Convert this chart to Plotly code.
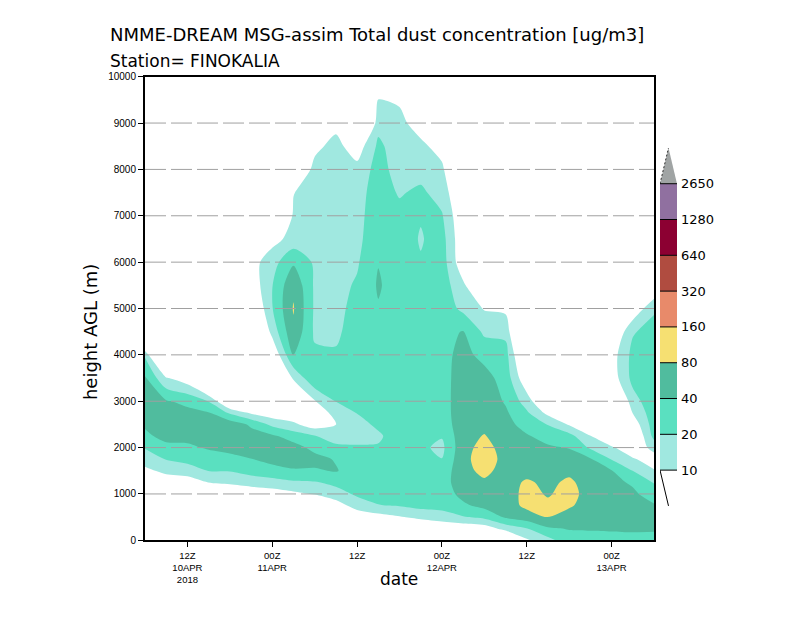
import numpy as np
import plotly.graph_objects as go

# ---------------- data ----------------
times = ["2018-04-10 06:00", "2018-04-10 09:00", "2018-04-10 12:00", "2018-04-10 15:00",
         "2018-04-10 18:00", "2018-04-10 21:00", "2018-04-11 00:00", "2018-04-11 03:00",
         "2018-04-11 06:00", "2018-04-11 09:00", "2018-04-11 12:00", "2018-04-11 15:00",
         "2018-04-11 18:00", "2018-04-11 21:00", "2018-04-12 00:00", "2018-04-12 03:00",
         "2018-04-12 06:00", "2018-04-12 09:00", "2018-04-12 12:00", "2018-04-12 15:00",
         "2018-04-12 18:00", "2018-04-12 21:00", "2018-04-13 00:00", "2018-04-13 03:00",
         "2018-04-13 06:00"]

heights = [0, 250, 500, 750, 1000, 1250, 1500, 1750, 2000, 2250, 2500, 2750, 3000,
           3500, 4000, 4500, 5000, 5500, 6000, 6500, 7000, 7500, 8000, 8500, 9000, 9500, 10000]

# dust concentration (ug/m3), one profile (bottom -> top) per time step
conc_by_time = [
    [0, 0, 0, 0, 1, 3, 8.5, 13.5, 21, 35, 43.6, 53.6, 55.9, 42.9, 18, 0, 0, 0, 0, 0, 0, 0, 0, 0, 0, 0, 0],
    [0, 0, 0, 0, 1.8, 6.6, 11.9, 20.7, 33.6, 49, 52, 55, 42.6, 10.7, 0, 0, 0, 0, 0, 0, 0, 0, 0, 0, 0, 0, 0],
    [0, 0, 0, 0, 2.8, 6.7, 14.5, 24.9, 36, 47.6, 60.6, 48, 33.4, 6.4, 1.4, 0, 0, 0, 0, 0, 0, 0, 0, 0, 0, 0, 0],
    [0, 0, 0, 1.5, 4.4, 10.2, 20.3, 30, 42.7, 54.6, 53, 41.6, 19.6, 1.2, 0, 0, 0, 0, 0, 0, 0, 0, 0, 0, 0, 0, 0],
    [0, 0, 0, 2.4, 5, 11.5, 20.8, 34.3, 47, 60.6, 60.6, 18, 3.5, 0, 0, 0, 0, 0, 0, 0, 0, 0, 0, 0, 0, 0, 0],
    [0, 0, 1.25, 2.5, 6, 13.5, 26.2, 39.4, 52.8, 52, 36, 9, 3.5, 0, 0, 1.8, 3.7, 6, 7.3, 2, 0, 0, 0, 0, 0, 0, 0],
    [0, 0, 1.6, 2.5, 7, 15, 32, 48, 60.6, 44.6, 16.8, 6.3, 2.5, 1.6, 5, 12.7, 19.3, 19.5, 15.2, 7.7, 1.9, 0, 0, 0, 0, 0, 0],
    [0, 0, 2, 3, 8.5, 18, 38, 50, 51, 29.7, 11.5, 5.9, 4, 11, 41, 70, 84, 70, 36, 13, 11, 9.8, 4, 0, 0, 0, 0],
    [0, 0, 2.4, 3.5, 10.5, 19, 37.3, 49, 33.4, 20.7, 6.8, 4.5, 9.5, 36, 22.4, 18, 18, 18, 18, 17, 15.2, 12.9, 12.5, 8.3, 0, 0, 0],
    [0, 1.25, 4, 7, 15, 24, 42, 38, 23.8, 13.9, 9.8, 15, 20.4, 28.3, 22, 17, 16, 16, 15.5, 15, 14.5, 14, 14, 12.7, 8, 0, 0],
    [0, 2, 5.9, 13.8, 22.4, 27.1, 28.5, 24.5, 21, 17.3, 16.6, 20.4, 23.3, 30.3, 30.3, 30.3, 25.7, 21.7, 18.5, 16.8, 16, 15.2, 12.7, 6.6, 0, 0, 0],
    [0, 2.6, 7.4, 19.6, 23.4, 27.5, 28.5, 24.5, 21, 18.4, 22.2, 26, 30.3, 32.5, 34.8, 36, 38, 43, 39, 32, 30, 28, 26, 23, 16.2, 10.4, 1.8],
    [0, 3.5, 9.4, 20.9, 24.8, 29.3, 30.3, 29.3, 28.3, 26.4, 27.3, 28.3, 29.3, 30.3, 31.4, 32.5, 31.4, 28.3, 28.3, 28, 24.6, 18.7, 15.2, 14.1, 12.7, 9, 0],
    [0, 4, 12.3, 24.6, 28.3, 30.3, 29.3, 25.5, 23, 24.6, 27.3, 28.3, 29.3, 30.3, 31.4, 31.4, 30.3, 28.3, 21, 19, 21, 23, 15.2, 12.3, 6.6, 0, 0],
    [0, 5, 15.3, 24.6, 28.3, 29.3, 26.4, 20.3, 17, 21, 27.3, 29.3, 30.3, 31.4, 32.5, 32.5, 31.4, 29.3, 28.3, 26.4, 21.4, 14.6, 11.9, 7, 0, 0, 0],
    [0, 6, 19, 35.5, 49, 60.6, 65, 67, 65, 62.8, 60.6, 60.6, 58.6, 54.6, 49, 41.4, 16.7, 11.5, 5.9, 5.5, 5, 4.5, 2, 0, 0, 0, 0],
    [0, 6.7, 24, 49, 60.6, 72, 95, 109, 98.5, 83, 67, 65, 60.6, 51, 32.5, 17.4, 9.5, 3.5, 1.5, 0, 0, 0, 0, 0, 0, 0, 0],
    [2.9, 12.7, 44, 56.6, 56, 58, 62, 66, 63, 56.6, 51, 44.4, 37.3, 30.3, 26.4, 16.6, 8.5, 3, 0, 0, 0, 0, 0, 0, 0, 0, 0],
    [9, 19.3, 57, 95, 100, 89, 59, 56.6, 51, 42.9, 30.3, 22.2, 14.6, 5.4, 2.5, 1, 0, 0, 0, 0, 0, 0, 0, 0, 0, 0, 0],
    [16, 36, 81, 92, 75, 67, 60.6, 52.8, 44.4, 30.3, 19.3, 8.1, 3.5, 1, 0, 0, 0, 0, 0, 0, 0, 0, 0, 0, 0, 0, 0],
    [30, 41.4, 63, 86, 102, 92, 67, 54.6, 38.6, 25.5, 9.3, 3.5, 1, 0, 0, 0, 0, 0, 0, 0, 0, 0, 0, 0, 0, 0, 0],
    [28.3, 42.9, 56.6, 62.8, 60.6, 56.6, 51, 42.9, 18, 10.3, 3.5, 1, 0, 0, 0, 0, 0, 0, 0, 0, 0, 0, 0, 0, 0, 0, 0],
    [28.3, 44.4, 58.6, 60.6, 56.6, 49, 41.4, 19.3, 11.5, 3.5, 1, 0, 2, 6.5, 7, 4, 1, 0, 0, 0, 0, 0, 0, 0, 0, 0, 0],
    [29.3, 46, 54.6, 52.8, 46, 36, 19.8, 11.1, 5, 4, 6.2, 10.4, 15.2, 24.6, 24.6, 18.7, 5.4, 2.5, 0, 0, 0, 0, 0, 0, 0, 0, 0],
    [30.3, 44.4, 51, 42.9, 28.3, 19.3, 10.7, 6.6, 13.7, 24.6, 28.3, 30.3, 31.4, 32.5, 31.4, 26.4, 18, 4.4, 1, 0, 0, 0, 0, 0, 0, 0, 0],
]

levels = [10, 20, 40, 80, 160, 320, 640, 1280, 2650]
level_labels = ["10", "20", "40", "80", "160", "320", "640", "1280", "2650"]
band_colors = ["#a0e8e0", "#5ae0c0", "#50bc9e", "#f6e072", "#e88a6a",
               "#b04c40", "#8c0032", "#9070a0"]
below_color = "#ffffff"
above_color = "#a0a4a4"

height_ticks = list(range(0, 10001, 1000))
date_ticks = ["2018-04-10 12:00", "2018-04-11 00:00", "2018-04-11 12:00",
              "2018-04-12 00:00", "2018-04-12 12:00", "2018-04-13 00:00"]
date_labels = ["12Z<br>10APR<br>2018", "00Z<br>11APR", "12Z",
               "00Z<br>12APR", "12Z", "00Z<br>13APR"]

# ---------------- processing ----------------
for col in conc_by_time:
    assert len(col) == len(heights), len(col)
assert len(conc_by_time) == len(times)

conc = np.array(conc_by_time, dtype=float).T          # rows = heights
logc = np.log(np.maximum(conc, 0.5))
loglev = np.log(np.array(levels, dtype=float))
nlev = len(levels)
# level index: 0 at 10, 1 at 20, ... (log-linear between the contour levels)
idx = np.interp(logc, loglev, np.arange(nlev))
below = logc < loglev[0]
idx[below] = (logc[below] - loglev[0]) / (loglev[1] - loglev[0])

all_colors = [below_color] + band_colors + [above_color]
nb = len(all_colors) - 1
colorscale = [[k / nb, c] for k, c in enumerate(all_colors)]

W, H = 800, 618
px_l, px_r, px_t, px_b = 145, 654, 73, 545

fig = go.Figure()
fig.add_trace(go.Contour(
    x=times, y=heights, z=idx,
    autocontour=False,
    contours=dict(start=0, end=nlev - 1, size=1, coloring="fill", showlines=False),
    colorscale=colorscale, zmin=-0.5, zmax=nlev - 0.5,
    line=dict(width=0, smoothing=0.8),
    showscale=False, hoverinfo="skip",
))

# ---------- colour bar built in its own small axes ----------
fig.add_trace(go.Bar(
    x=[0] * len(band_colors), y=[1] * len(band_colors), base=list(range(len(band_colors))),
    width=1, marker=dict(color=band_colors, line=dict(width=0)),
    xaxis="x2", yaxis="y2", hoverinfo="skip", showlegend=False,
))
top = len(band_colors)
fig.add_trace(go.Scatter(
    x=[-0.5, 0.5, 0, -0.5], y=[top, top, top + 1, top], fill="toself",
    fillcolor=above_color, line=dict(width=0), mode="lines",
    xaxis="x2", yaxis="y2", hoverinfo="skip", showlegend=False,
))
fig.add_trace(go.Scatter(
    x=[-0.5, 0], y=[top, top + 1], mode="lines",
    line=dict(color="#333333", width=1, dash="2px,2px"),
    xaxis="x2", yaxis="y2", hoverinfo="skip", showlegend=False,
))
fig.add_trace(go.Scatter(
    x=[-0.5, 0], y=[0, -1], mode="lines", line=dict(color="black", width=1),
    xaxis="x2", yaxis="y2", hoverinfo="skip", showlegend=False,
))
sep_x, sep_y = [], []
for k in range(nlev):
    sep_x += [-0.5, 0.5, None]
    sep_y += [k, k, None]
fig.add_trace(go.Scatter(
    x=sep_x, y=sep_y, mode="lines", line=dict(color="black", width=1),
    xaxis="x2", yaxis="y2", hoverinfo="skip", showlegend=False,
))

# dashed horizontal grid drawn above the shading
shapes = []
for v in height_ticks[1:-1]:
    shapes.append(dict(type="line", xref="x domain", x0=0, x1=1, yref="y", y0=v, y1=v,
                       line=dict(color="#a0a0a0", width=1, dash="21px,5px"), layer="above"))

tickfont = dict(family="Liberation Sans", size=10, color="black")
xtickfont = dict(family="Liberation Sans", size=9.5, color="black")

annotations = [
    dict(text="NMME-DREAM MSG-assim Total dust concentration [ug/m3]", x=108 / W, y=1 - 30 / H,
         xref="paper", yref="paper", xanchor="left", yanchor="middle", showarrow=False,
         font=dict(family="DejaVu Sans", size=18, color="black")),
    dict(text="Station= FINOKALIA", x=108 / W, y=1 - 57 / H,
         xref="paper", yref="paper", xanchor="left", yanchor="middle", showarrow=False,
         font=dict(family="DejaVu Sans", size=17, color="black")),
    dict(text="height AGL (m)", x=90 / W, y=1 - 333 / H, textangle=-90,
         xref="paper", yref="paper", xanchor="center", yanchor="middle", showarrow=False,
         font=dict(family="DejaVu Sans", size=18, color="black")),
    dict(text="date", x=399 / W, y=1 - 584 / H,
         xref="paper", yref="paper", xanchor="center", yanchor="middle", showarrow=False,
         font=dict(family="DejaVu Sans", size=17, color="black")),
]

fig.update_layout(
    width=W, height=H, margin=dict(l=0, r=0, t=0, b=0),
    paper_bgcolor="white", plot_bgcolor="white", showlegend=False,
    shapes=shapes, annotations=annotations,
    xaxis=dict(domain=[px_l / W, px_r / W], type="date", range=[times[0], times[-1]],
               tickvals=date_ticks, ticktext=date_labels, tickfont=xtickfont,
               ticks="outside", ticklen=5, tickcolor="black", showgrid=False, zeroline=False,
               showline=True, linecolor="black", linewidth=2, mirror=True, anchor="y"),
    yaxis=dict(domain=[(H - px_b) / H, (H - px_t) / H], range=[0, 10000],
               tickvals=height_ticks, ticktext=[str(v) for v in height_ticks], tickfont=tickfont,
               ticks="outside", ticklen=5, tickcolor="black", showgrid=False, zeroline=False,
               showline=True, linecolor="black", linewidth=2, mirror=True, anchor="x"),
    xaxis2=dict(domain=[660 / W, 677 / W], range=[-0.5, 0.5], visible=False, anchor="y2",
                fixedrange=True),
    yaxis2=dict(domain=[(H - 510) / H, (H - 145.5) / H], range=[-1, top + 1], anchor="x2",
                side="right", tickvals=list(range(nlev)), ticktext=level_labels,
                tickfont=dict(family="DejaVu Sans", size=13, color="black"),
                ticks="", showgrid=False, zeroline=False, showline=False, ticklabelstandoff=3),
)

fig.write_html("out.html")
